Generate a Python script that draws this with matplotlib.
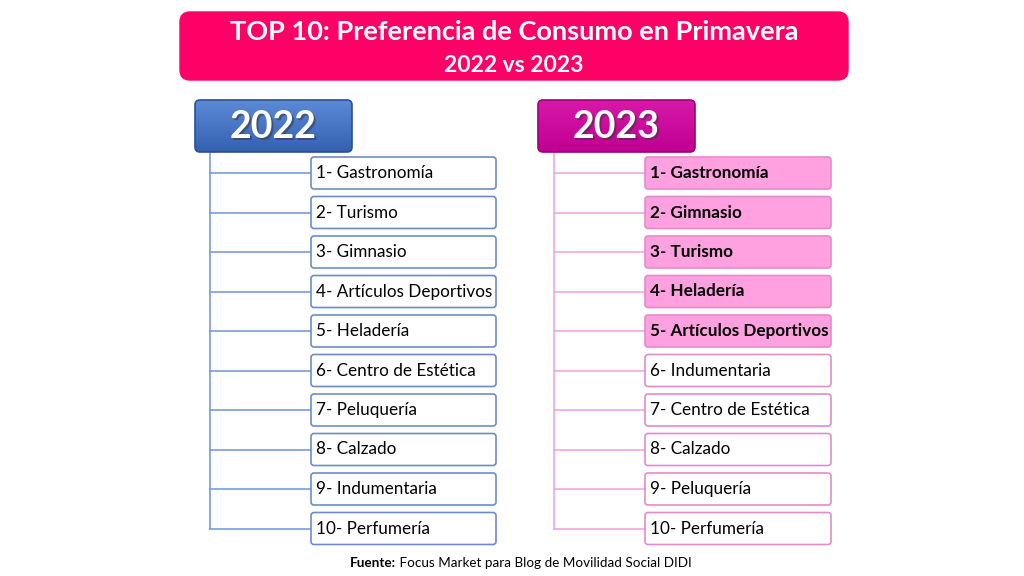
import matplotlib
matplotlib.use("Agg")
import matplotlib.pyplot as plt
from matplotlib.patches import FancyBboxPatch
import numpy as np

plt.rcParams['font.family'] = ['Lato', 'DejaVu Sans']

title_line1 = "TOP 10: Preferencia de Consumo en Primavera"
title_line2 = "2022 vs 2023"
years = ["2022", "2023"]
items_2022 = ["1- Gastronomía", "2- Turismo", "3- Gimnasio", "4- Artículos Deportivos",
              "5- Heladería", "6- Centro de Estética", "7- Peluquería", "8- Calzado",
              "9- Indumentaria", "10- Perfumería"]
items_2023 = ["1- Gastronomía", "2- Gimnasio", "3- Turismo", "4- Heladería",
              "5- Artículos Deportivos", "6- Indumentaria", "7- Centro de Estética",
              "8- Calzado", "9- Peluquería", "10- Perfumería"]
highlight_2023 = 5
source_bold = "Fuente:"
source_text = " Focus Market para Blog de Movilidad Social DIDI"

W, H = 1024, 576
fig = plt.figure(figsize=(W / 100, H / 100), dpi=100)
ax = fig.add_axes([0, 0, 1, 1])
ax.set_xlim(0, W)
ax.set_ylim(H, 0)
ax.axis('off')


def rbox(x0, y0, x1, y1, fc, ec, lw=1.0, r=4, z=2):
    p = FancyBboxPatch((x0, y0), x1 - x0, y1 - y0,
                       boxstyle=f"round,pad=0,rounding_size={r}",
                       fc=fc, ec=ec, lw=lw, zorder=z)
    ax.add_patch(p)
    return p


# Title
rbox(180, 12, 848, 80, "#FF0066", "#FF0066", r=10)
ax.text(514, 32, title_line1, color="white", fontsize=19.5, fontweight="bold",
        ha="center", va="center", zorder=5)
ax.text(514, 65, title_line2, color="white", fontsize=16.5, fontweight="bold",
        ha="center", va="center", zorder=5)


def header(x0, x1, y0, y1, c_top, c_bot, c_edge, label):
    rbox(x0, y0, x1, y1, "none", c_edge, lw=1.2, r=5, z=4)
    grad = np.linspace(0, 1, 64)[:, None]
    ct = np.array(matplotlib.colors.to_rgb(c_top))
    cb = np.array(matplotlib.colors.to_rgb(c_bot))
    img = ct[None, None, :] * (1 - grad[..., None]) + cb[None, None, :] * grad[..., None]
    img = np.repeat(img, 2, axis=1)
    im = ax.imshow(img, extent=(x0, x1, y1, y0), aspect='auto', zorder=3, interpolation='bilinear')
    clip = rbox(x0, y0, x1, y1, "none", "none", r=5, z=1)
    im.set_clip_path(clip)
    cx, cy = (x0 + x1) / 2, (y0 + y1) / 2
    ax.text(cx + 1.5, cy + 2.5, label, color="#333333", alpha=0.5, fontsize=27,
            fontweight="bold", ha="center", va="center", zorder=5)
    ax.text(cx, cy + 1, label, color="white", fontsize=27, fontweight="bold",
            ha="center", va="center", zorder=6)


header(195, 352, 100, 152, "#5B8AD8", "#3560B0", "#2A4F9A", years[0])
header(538, 695, 100, 152, "#D818A8", "#C00090", "#A0007A", years[1])

# Item boxes
tops = 157 + np.arange(10) * 39.5
bh = 32


def column(items, x_line, bx0, bx1, line_c, edge_c, fill_c, nhl):
    centers = tops + bh / 2
    ax.plot([x_line, x_line], [152, centers[-1]], color=line_c, lw=1.2, zorder=1)
    for i, (t, cy) in enumerate(zip(items, centers)):
        ax.plot([x_line, bx0], [cy, cy], color=line_c, lw=1.2, zorder=1)
        hl = i < nhl
        rbox(bx0, tops[i], bx1, tops[i] + bh, fill_c if hl else "white", edge_c,
             lw=1.2, r=3, z=2)
        ax.text(bx0 + 5, cy, t, fontsize=12.3, color="black",
                fontweight="bold" if hl else "normal", ha="left", va="center", zorder=5)


column(items_2022, 210, 311, 496, "#7A9BDB", "#6C8CC8", "white", 0)
column(items_2023, 554, 645, 831, "#F6A6DC", "#E58ACB", "#FFA0E0", highlight_2023)

# Source
t1 = ax.text(350, 563, source_bold, fontsize=9.7, fontweight="bold", ha="left", va="center")
fig.canvas.draw()
bb = t1.get_window_extent()
ax.text(350 + bb.width, 563, source_text, fontsize=9.7, ha="left", va="center")

fig.savefig("out.png", dpi=100)
